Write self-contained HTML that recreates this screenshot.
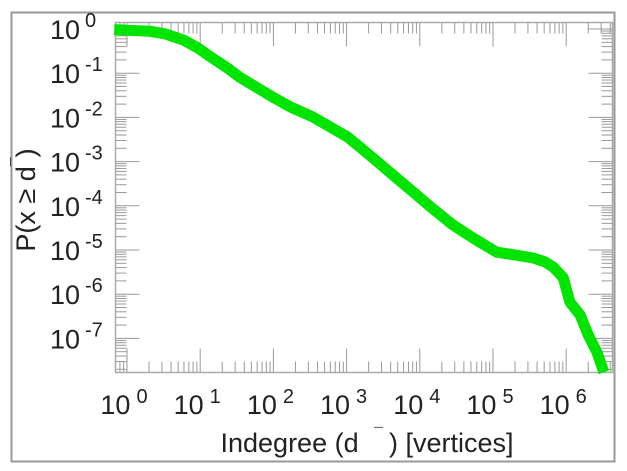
<!DOCTYPE html>
<html><head><meta charset="utf-8"><style>
html,body{margin:0;padding:0;background:#fff;}
svg{display:block;font-family:"Liberation Sans",sans-serif;}
</style></head><body>
<svg id="chart" width="627" height="471" viewBox="0 0 627 471">
<rect x="11.5" y="12.5" width="603" height="449" fill="#fff" stroke="#999" stroke-width="2"/>
<g id="ticks"></g>
<rect x="115.5" y="22.5" width="497" height="350" fill="none" stroke="#aaa" stroke-width="1.5"/>
<g id="series"></g>
<g id="labels" fill="#222" font-size="27"></g>
<text x="367" y="452" text-anchor="middle" font-size="27" fill="#222">Indegree (d <tspan font-size="16" dx="8" dy="-13">¯</tspan><tspan dx="6" dy="13">) [vertices]</tspan></text>
<text transform="translate(35,200) rotate(-90)" text-anchor="middle" font-size="27" fill="#222">P(x ≥ d<tspan font-size="16" dy="-13">¯</tspan><tspan dy="13">)</tspan></text>
</svg>
<script>
const logDegree = [-0.10,0.31,0.52,0.77,0.97,1.17,1.37,1.54,1.99,2.23,2.54,3.01,3.18,3.36,3.91,4.18,4.45,4.73,5.05,5.30,5.55,5.71,5.82,5.96,6.05,6.19,6.30,6.42,6.49];
const logProb   = [-0.02,-0.05,-0.11,-0.25,-0.43,-0.66,-0.88,-1.09,-1.54,-1.76,-1.99,-2.44,-2.67,-2.92,-3.69,-4.07,-4.43,-4.73,-5.05,-5.11,-5.18,-5.27,-5.38,-5.63,-6.18,-6.47,-6.92,-7.31,-7.65];
const xDecades = [0,1,2,3,4,5,6];
const yDecades = [0,-1,-2,-3,-4,-5,-6,-7];

const L=115.5,R=612.5,T=22.5,B=372.5;
const X0=127, XS=73.2, Y0=29, YS=44.2;
function xs(v){return X0+XS*v;}
function ys(v){return Y0-YS*v;}
const NS='http://www.w3.org/2000/svg';
function mk(tag,attrs,parent){const e=document.createElementNS(NS,tag);for(const k in attrs)e.setAttribute(k,attrs[k]);parent.appendChild(e);return e;}

const tg=document.getElementById('ticks');
for(let d=-1; d<=6; d++){
  for(let m=1;m<=9;m++){
    const v=d+Math.log10(m); const x=xs(v);
    if(x<L||x>R) continue;
    const len=m===1?24:11;
    const t1=mk('line',{x1:x,x2:x,y1:B,y2:B-len,stroke:'#999','stroke-width':1},tg);
    
    
    const t2=mk('line',{x1:x,x2:x,y1:T,y2:T+len,stroke:'#999','stroke-width':1},tg);
    
    
  }
}
for(let d=-8; d<=0; d++){
  for(let m=1;m<=9;m++){
    const v=d+Math.log10(m); const y=ys(v);
    if(y<T||y>B) continue;
    const len=m===1?24:11;
    const t1=mk('line',{x1:L,x2:L+len,y1:y,y2:y,stroke:'#999','stroke-width':1},tg);
    
    
    const t2=mk('line',{x1:R,x2:R-len,y1:y,y2:y,stroke:'#999','stroke-width':1},tg);
    
    
  }
}
const lg=document.getElementById('labels');
xDecades.forEach(d=>{
  const t=mk('text',{x:xs(d)-3,y:414,'text-anchor':'middle'},lg);
  
  
  t.innerHTML='10<tspan font-size="20" dx="6" dy="-11">'+d+'</tspan>';
});
yDecades.forEach(d=>{
  const t=mk('text',{x:80,y:ys(d)+10,'text-anchor':'end'},lg);
  
  
  t.textContent='10';
  const s=mk('text',{x:85,y:ys(d)-2,'font-size':20},lg);
  
  
  s.textContent=String(d);
});
const sg=document.getElementById('series');
const pts=logDegree.map((v,i)=>xs(v).toFixed(1)+','+ys(logProb[i]).toFixed(1)).join(' ');
const pl=mk('polyline',{points:pts,fill:'none',stroke:'#00e400','stroke-width':11,'stroke-linejoin':'round','stroke-linecap':'square'},sg);


</script>
</body></html>
